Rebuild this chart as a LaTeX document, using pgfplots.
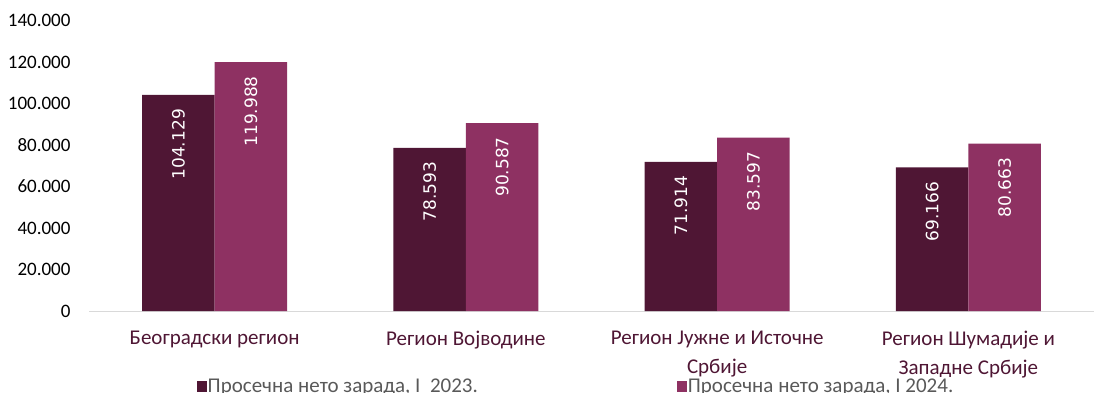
\documentclass[border=0pt]{standalone}
\usepackage{pgfplots}
\pgfplotsset{compat=1.18}
\usepackage{fontspec}
\setmainfont{Carlito}
\newfontfamily\dejavu{DejaVu Sans}
\definecolor{darkm}{HTML}{4F1634}
\definecolor{lightm}{HTML}{8E3162}
\definecolor{axgray}{HTML}{D9D9D9}
\definecolor{legtext}{HTML}{595959}
\begin{document}
\begin{tikzpicture}
\begin{axis}[
  name=ax,
  scale only axis,
  width=1005pt, height=290.5pt,
  xmin=-0.5, xmax=3.5,
  ymin=0, ymax=140000,
  ybar=0pt, bar width=72.5pt,
  xtick={0,1,2,3},
  xticklabels={Београдски регион, Регион Војводине, Регион Јужне и Источне\\Србије, Регион Шумадије и\\Западне Србије},
  xticklabel style={align=center, text=darkm, font=\fontsize{21}{29}\selectfont, anchor=north, yshift=-16pt},
  ytick={0,20000,40000,60000,80000,100000,120000,140000},
  scaled y ticks=false,
  /pgf/number format/fixed,
  /pgf/number format/precision=0,
  /pgf/number format/1000 sep={.},
  /pgf/number format/assume math mode=true,
  yticklabel={\fontsize{19}{20}\selectfont\pgfmathprintnumber{\tick}},
  yticklabel style={xshift=-15pt},
  major tick length=0pt,
  axis x line*=bottom,
  axis y line*=left,
  x axis line style={draw=axgray, line width=1pt},
  y axis line style={draw=none},
  nodes near coords,
  every node near coord/.append style={rotate=90, anchor=east, font=\dejavu\fontsize{17}{17}\selectfont, text=white, inner xsep=14pt},
  legend columns=2,
  legend style={at={(axis description cs:0.107,-0.26)}, anchor=west, draw=none, inner sep=0pt,
    font=\fontsize{21}{22}\selectfont, text=legtext,
    nodes={inner xsep=1pt},
    /tikz/every even column/.append style={column sep=198pt}},
  legend image code/.code={\fill[#1] (0pt,-5pt) rectangle (10pt,6pt);},
  clip=false,
]
\addplot[fill=darkm, draw=none] coordinates {(0,104129) (1,78593) (2,71914) (3,69166)};
\addplot[fill=lightm, draw=none] coordinates {(0,119988) (1,90587) (2,83597) (3,80663)};
\legend{{Просечна нето зарада, I\ \ 2023.}, {Просечна нето зарада, I 2024.}}
\end{axis}
\pgfresetboundingbox
\path[use as bounding box] ([shift={(-89pt,-81pt)}]ax.south west) rectangle ([shift={(0pt,20.5pt)}]ax.north east);
\end{tikzpicture}
\end{document}
